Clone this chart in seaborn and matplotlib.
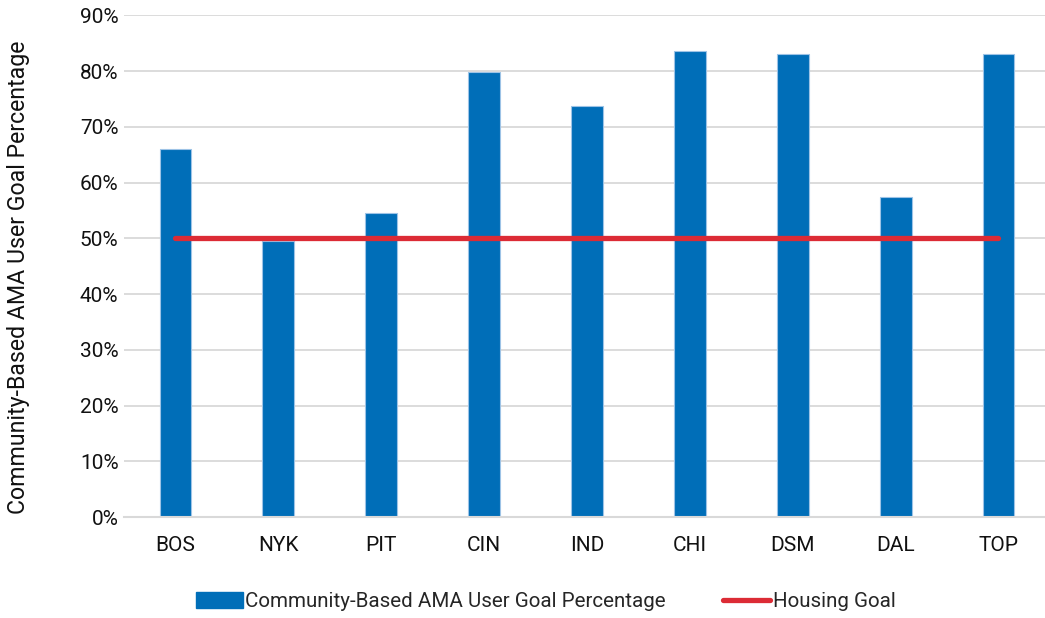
import matplotlib
matplotlib.use("Agg")
import matplotlib.pyplot as plt
from matplotlib.ticker import FuncFormatter
from matplotlib.lines import Line2D
from matplotlib.patches import Patch
import numpy as np
import pandas as pd
import seaborn as sns

categories = ["BOS", "NYK", "PIT", "CIN", "IND", "CHI", "DSM", "DAL", "TOP"]
user_goal_pct = [66.0, 49.6, 54.5, 79.8, 73.8, 83.7, 83.1, 57.5, 83.1]
housing_goal = [50, 50, 50, 50, 50, 50, 50, 50, 50]
y_ticks = [0, 10, 20, 30, 40, 50, 60, 70, 80, 90]

bar_label = "Community-Based AMA User Goal Percentage"
line_label = "Housing Goal"

sns.set_theme(style="white")
plt.rcParams["font.family"] = ["Liberation Sans Narrow", "Roboto", "DejaVu Sans"]

BLUE = "#006EB8"
RED = "#DC2B35"
GRID = "#D9D9D9"

df = pd.DataFrame({"site": categories, "pct": user_goal_pct, "goal": housing_goal})

fig = plt.figure(figsize=(10.45, 6.18), dpi=100)
ax = fig.add_axes([0.1187, 0.1634, 0.886, 0.8116])

sns.barplot(data=df, x="site", y="pct", color=BLUE, width=0.31,
            edgecolor="#9DC3E6", linewidth=0.8, saturation=1, ax=ax, zorder=2)
ax.plot(np.arange(len(categories)), df["goal"], color=RED, lw=3.8,
        solid_capstyle="round", zorder=3)

ax.set_ylim(0, 90)
ax.set_xlim(-0.5, len(categories) - 0.5)
ax.set_yticks(y_ticks)
ax.yaxis.set_major_formatter(FuncFormatter(lambda v, p: f"{v:.0f}%"))
ax.grid(axis="y", color=GRID, lw=1.3, zorder=0)
ax.set_axisbelow(True)
for s in ["top", "right", "left"]:
    ax.spines[s].set_visible(False)
ax.spines["bottom"].set_color(GRID)
ax.spines["bottom"].set_linewidth(1.5)
ax.tick_params(axis="both", length=0, labelsize=15, colors="#111111")
ax.tick_params(axis="x", pad=14)
ax.tick_params(axis="y", pad=4)
ax.set_xlabel("")
ax.set_ylabel("Community-Based AMA User Goal Percentage", fontsize=16.7,
              color="#111111")
ax.yaxis.set_label_coords(-0.1015, 0.478)

handles = [Patch(facecolor=BLUE, edgecolor=BLUE, label=bar_label),
           Line2D([0], [0], color=RED, lw=3.8, label=line_label)]
fig.legend(handles=handles, loc="center", bbox_to_anchor=(0.522, 0.026),
           ncol=2, frameon=False, fontsize=14.8, handlelength=2.3,
           handletextpad=0.1, columnspacing=2.8, handleheight=0.8)

fig.savefig("out.png", dpi=100)
